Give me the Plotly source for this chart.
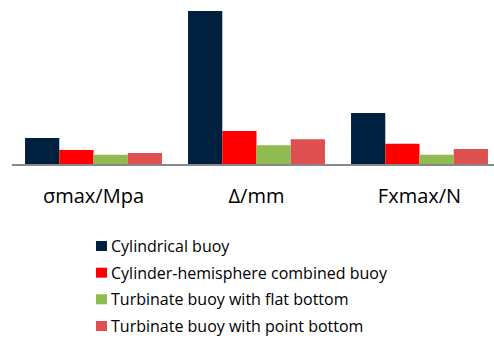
import plotly.graph_objects as go

categories = ["σmax/Mpa", "Δ/mm", "Fxmax/N"]
series_names = [
    "Cylindrical buoy",
    "Cylinder-hemisphere combined buoy",
    "Turbinate buoy with flat bottom",
    "Turbinate buoy with point bottom",
]
cylindrical = [26, 153, 51]
combined = [14, 33, 20.3]
flat_bottom = [9.3, 18.7, 9.3]
point_bottom = [11, 24.7, 15]
colors = ["#00203f", "#ff0000", "#8fbb50", "#de5050"]

W, H = 494, 338
ML, MR, MT, MB = 12, 0, 4, 174
PW, PH = W - ML - MR, H - MT - MB


def px_x(px):
    return (px - ML) / PW


def px_y(py):
    return (H - MB - py) / PH


fig = go.Figure()
for i, (name, vals) in enumerate(zip(series_names, [cylindrical, combined, flat_bottom, point_bottom])):
    fig.add_trace(go.Bar(x=categories, y=vals, name=name, marker_color=colors[i],
                         marker_line_width=0, showlegend=False))

# legend drawn as squares + text
legend_centers = [246, 272.7, 299.3, 326]
shapes = []
annotations = []
for i, name in enumerate(series_names):
    cy = legend_centers[i]
    shapes.append(dict(type="rect", xref="paper", yref="paper",
                       x0=px_x(96), x1=px_x(107), y0=px_y(cy + 5), y1=px_y(cy - 5),
                       fillcolor=colors[i], line=dict(width=0)))
    annotations.append(dict(text=name, xref="paper", yref="paper", x=px_x(109), y=px_y(cy),
                            xanchor="left", yanchor="middle", showarrow=False,
                            font=dict(size=16, family="Open Sans, sans-serif", color="#000000")))

fig.update_layout(
    width=W, height=H,
    margin=dict(l=ML, r=MR, t=MT, b=MB),
    paper_bgcolor="white", plot_bgcolor="white",
    barmode="group", bargap=0.16, bargroupgap=0,
    font=dict(family="Open Sans, sans-serif", color="#000000"),
    showlegend=False,
    shapes=shapes, annotations=annotations,
    xaxis=dict(range=[-0.5, 2.457], showline=True, linecolor="#898989", linewidth=2,
               showgrid=False, ticks="", tickfont=dict(size=20), ticklabelstandoff=13,
               automargin=False),
    yaxis=dict(range=[0, 160], visible=False, showgrid=False, automargin=False),
)

fig.write_html("out.html", config={"displayModeBar": False},
               post_script="document.body.style.margin='0';document.body.style.overflow='hidden';")
